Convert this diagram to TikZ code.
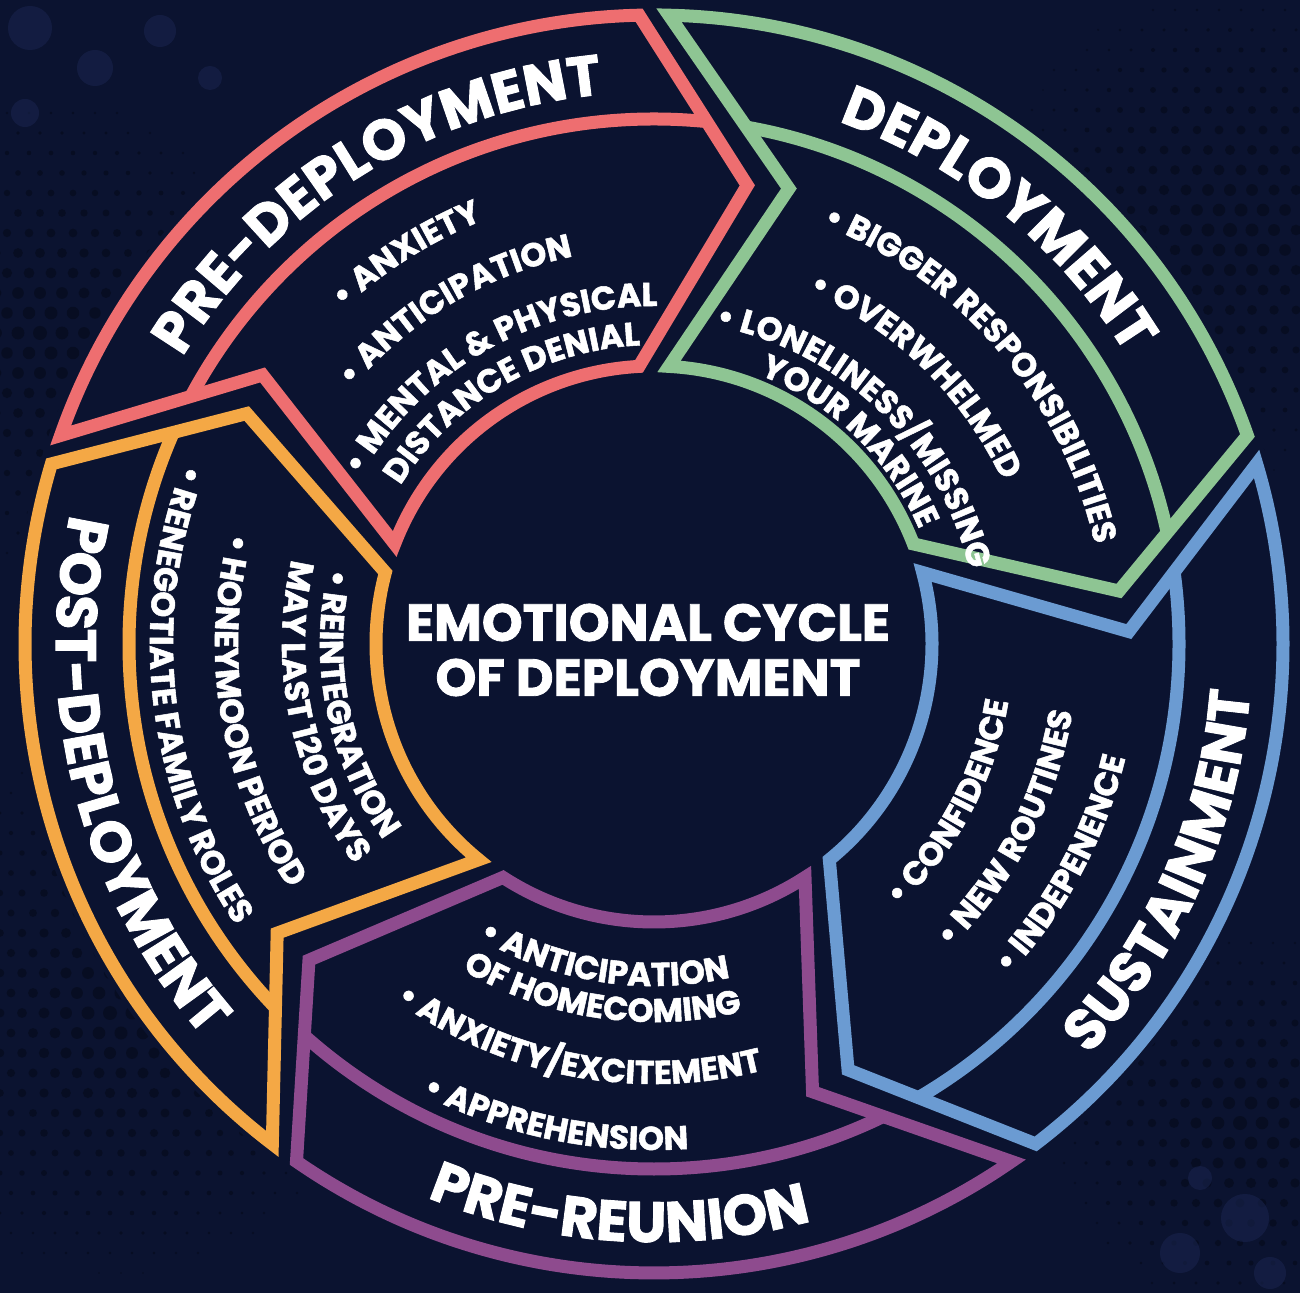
\documentclass[tikz,border=0pt]{standalone}
\usepackage{fontspec}
\setmainfont{Poppins}[BoldFeatures={FakeBold=1.6}]
\usetikzlibrary{decorations.text}
\definecolor{bgnavy}{HTML}{0B1330}
\definecolor{dotdark}{HTML}{070D22}
\definecolor{bokeh}{HTML}{1A2550}
\definecolor{cred}{HTML}{EE6E70}
\definecolor{cgreen}{HTML}{8EC593}
\definecolor{cblue}{HTML}{6B9BD2}
\definecolor{cpurple}{HTML}{8E4B8E}
\definecolor{corange}{HTML}{F4A845}
\newcommand\segtitlefont{\fontsize{57}{57}\selectfont\bfseries}
\newcommand\segbulletfont{\fontsize{33}{33}\selectfont\bfseries}
\newcommand\RadOut{629}
\newcommand\RadIn{278}
\newcommand\RadSep{525}
\newcommand\segpath[2]{({#1-1.36}:\RadOut) arc[start angle={#1-1.36}, end angle={#2+1.36}, radius=\RadOut]
      -- ({#2-11.5}:468) -- ({#2+3.1}:\RadIn)
      arc[start angle={#2+3.1}, end angle={#1-3.1}, radius=\RadIn]
      -- ({#1-16.5}:475) -- cycle}
\newcommand\cyclesegment[3]{%
  \begin{scope}
    \clip \segpath{#1}{#2};
    \draw[#3, line width=13pt] (0,0) circle[radius=\RadSep];
  \end{scope}
  \draw[#3, line width=13pt, line join=miter] \segpath{#1}{#2};
}
% clockwise text (tops outward): mid angle, centre radius, font, text
\newcommand\cwline[4]{%
  \path[decorate,decoration={text along path,text align=center,text color=white,
    text={|#3|#4}}]
    ({#1+75}:{#2}) arc[start angle={#1+75}, end angle={#1-75}, radius={#2}];
}
% counter-clockwise text (tops inward)
\newcommand\ccwline[4]{%
  \path[decorate,decoration={text along path,text align=center,text color=white,
    text={|#3|#4}}]
    ({#1-75}:{#2}) arc[start angle={#1-75}, end angle={#1+75}, radius={#2}];
}
\begin{document}
\begin{tikzpicture}[x=1pt,y=1pt]
\fill[bgnavy] (0,0) rectangle (1300,1293);
\useasboundingbox (0,0) rectangle (1300,1293);
% faint halftone texture in the corners
\foreach \cx/\cy/\cr in {1230/1063/280, 40/960/270, 110/280/300, 1240/170/220} {
  \foreach \i in {-13,...,13} {
    \foreach \j in {-13,...,13} {
      \pgfmathsetmacro\px{\cx+\i*22+11*mod(abs(\j),2)}
      \pgfmathsetmacro\py{\cy+\j*20}
      \pgfmathsetmacro\rr{7*(1-veclen(\i*22,\j*20)/\cr)}
      \ifdim\rr pt>0.9pt
        \fill[dotdark] (\px,\py) circle[radius=\rr];
      \fi
    }
  }
}
\foreach \bx/\by/\br in {30/1265/22, 95/1225/18, 160/1262/16, 25/1180/14, 210/1215/12, 1180/40/20, 1245/75/24, 1270/20/16, 1200/115/12} {
  \fill[bokeh, opacity=0.55] (\bx,\by) circle[radius=\br];
}
\begin{scope}[shift={(654,649)}]
  \fill[bgnavy] (0,0) circle[radius=640];
  \cyclesegment{162}{90}{cred}
  \cyclesegment{90}{18}{cgreen}
  \cyclesegment{18}{-54}{cblue}
  \cyclesegment{306}{234}{cpurple}
  \cyclesegment{234}{162}{corange}
  % titles
  \cwline{122}{552}{\segtitlefont}{PRE-DEPLOYMENT}
  \cwline{51}{554}{\segtitlefont}{DEPLOYMENT}
  \ccwline{-24}{598}{\segtitlefont}{SUSTAINMENT}
  \ccwline{266.5}{598}{\segtitlefont}{PRE-REUNION}
  \ccwline{194.3}{598}{\segtitlefont}{POST-DEPLOYMENT}
  % red bullets
  \cwline{122.4}{457}{\segbulletfont}{• ANXIETY}
  \cwline{120.7}{396}{\segbulletfont}{• ANTICIPATION}
  \cwline{119.8}{338}{\segbulletfont}{• MENTAL {\&} PHYSICAL}
  \cwline{120.3}{299}{\segbulletfont}{DISTANCE DENIAL}
  % green bullets
  \cwline{40.4}{452}{\segbulletfont}{• BIGGER RESPONSIBILITIES}
  \cwline{45.7}{385}{\segbulletfont}{• OVERWHELMED}
  \cwline{46.2}{324}{\segbulletfont}{• LONELINESS/MISSING}
  \cwline{46}{289}{\segbulletfont}{YOUR MARINE}
  % blue bullets
  \ccwline{-28.1}{359}{\segbulletfont}{• CONFIDENCE}
  \ccwline{-27.5}{424}{\segbulletfont}{• NEW ROUTINES}
  \ccwline{-28.3}{485}{\segbulletfont}{• INDEPENENCE}
  % purple bullets
  \ccwline{261}{342}{\segbulletfont}{• ANTICIPATION}
  \ccwline{261.5}{378}{\segbulletfont}{OF HOMECOMING}
  \ccwline{259.2}{440}{\segbulletfont}{• ANXIETY/EXCITEMENT}
  \ccwline{258.3}{506}{\segbulletfont}{• APPREHENSION}
  % orange bullets
  \ccwline{191.4}{334}{\segbulletfont}{• REINTEGRATION}
  \ccwline{191.6}{372}{\segbulletfont}{MAY LAST 120 DAYS}
  \ccwline{189.6}{439}{\segbulletfont}{• HONEYMOON PERIOD}
  \ccwline{186.5}{504}{\segbulletfont}{• RENEGOTIATE FAMILY ROLES}
\end{scope}
\node[text=white, font=\fontsize{52}{55}\selectfont\bfseries, align=center]
  (centre) at (648,643) {EMOTIONAL CYCLE\\OF DEPLOYMENT};
\end{tikzpicture}
\end{document}
